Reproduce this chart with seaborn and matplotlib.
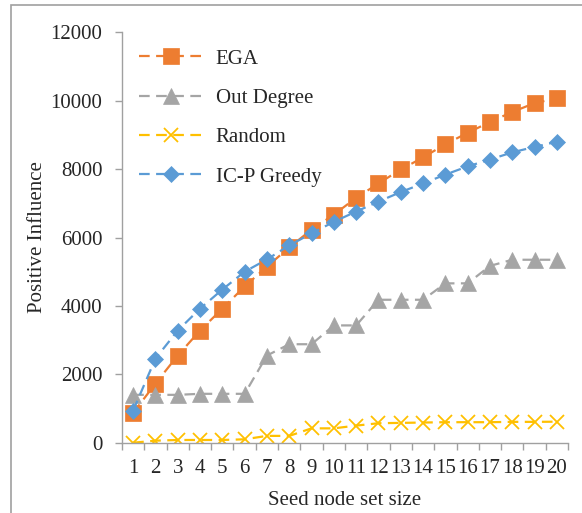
import numpy as np
import pandas as pd
import matplotlib
matplotlib.use('Agg')
import matplotlib.pyplot as plt
import seaborn as sns
from matplotlib.patches import Rectangle
from matplotlib.ticker import FixedLocator, NullFormatter

# Seed node set size (categories)
seed_sizes = list(range(1, 21))

# Series values
ega = [870, 1730, 2550, 3280, 3920, 4570, 5150, 5710, 6230, 6670,
       7160, 7580, 7990, 8340, 8730, 9060, 9380, 9670, 9930, 10070]
out_degree = [1400, 1400, 1400, 1430, 1430, 1430, 2550, 2880, 2880, 3430,
              3430, 4180, 4180, 4180, 4660, 4660, 5170, 5350, 5350, 5350]
random_sel = [0, 60, 80, 80, 80, 100, 200, 200, 420, 420,
              500, 570, 580, 590, 600, 600, 600, 610, 610, 615]
icp_greedy = [940, 2460, 3280, 3920, 4480, 5000, 5360, 5770, 6120, 6460,
              6760, 7050, 7330, 7580, 7840, 8080, 8280, 8490, 8650, 8800]

y_ticks = [0, 2000, 4000, 6000, 8000, 10000, 12000]

series = [
    ('EGA', ega, '#ED7D31', 's', 11),
    ('Out Degree', out_degree, '#A5A5A5', '^', 12),
    ('Random', random_sel, '#FFC000', 'x', 10),
    ('IC-P Greedy', icp_greedy, '#5B9BD5', 'D', 8.5),
]

sns.set_style('white')
plt.rcParams['font.family'] = ['Liberation Serif', 'DejaVu Serif']

fig = plt.figure(figsize=(5.82, 5.13), dpi=100)
ax = fig.add_axes([0.2096, 0.137, 0.7664, 0.800])

# outer frame like the exported figure
fig.patches.append(Rectangle((11 / 582, -0.1), 1.2, (513 - 5) / 513 + 0.1,
                             transform=fig.transFigure, fill=False,
                             edgecolor='#A0A0A0', linewidth=1.2))

for name, vals, col, mk, ms in series:
    df = pd.DataFrame({'size': seed_sizes, 'val': vals})
    sns.lineplot(data=df, x='size', y='val', ax=ax, color=col, label=name,
                 marker=mk, markersize=ms, linewidth=1.6,
                 markeredgecolor=col, markeredgewidth=1.3 if mk == 'x' else 0.5)

for line in ax.get_lines():
    line.set_dashes((4.8, 2.9))

ax.set_xlim(0.5, 20.5)
ax.set_ylim(0, 12000)
ax.set_yticks(y_ticks)
ax.set_yticklabels([str(v) for v in y_ticks])
ax.set_xticks(seed_sizes)
ax.set_xticklabels([str(v) for v in seed_sizes])
ax.xaxis.set_minor_locator(FixedLocator(np.arange(0.5, 21, 1)))
ax.xaxis.set_minor_formatter(NullFormatter())
ax.tick_params(axis='x', which='major', length=0, pad=12, labelsize=15)
ax.tick_params(axis='x', which='minor', length=5, color='#A0A0A0', width=1,
               bottom=True)
ax.tick_params(axis='y', which='major', length=5, color='#A0A0A0', width=1,
               left=True, pad=9, labelsize=15)

for s in ['top', 'right']:
    ax.spines[s].set_visible(False)
for s in ['left', 'bottom']:
    ax.spines[s].set_color('#A0A0A0')
    ax.spines[s].set_linewidth(1)

ax.set_xlabel('Seed node set size', fontsize=15, labelpad=9)
ax.set_ylabel('Positive Influence', fontsize=15, labelpad=3)

leg = ax.legend(loc='upper left', bbox_to_anchor=(-0.005, 1.005), frameon=False,
                fontsize=15, handlelength=3.1, labelspacing=0.95,
                handletextpad=0.6, numpoints=1)

fig.savefig('out.png', dpi=100)
